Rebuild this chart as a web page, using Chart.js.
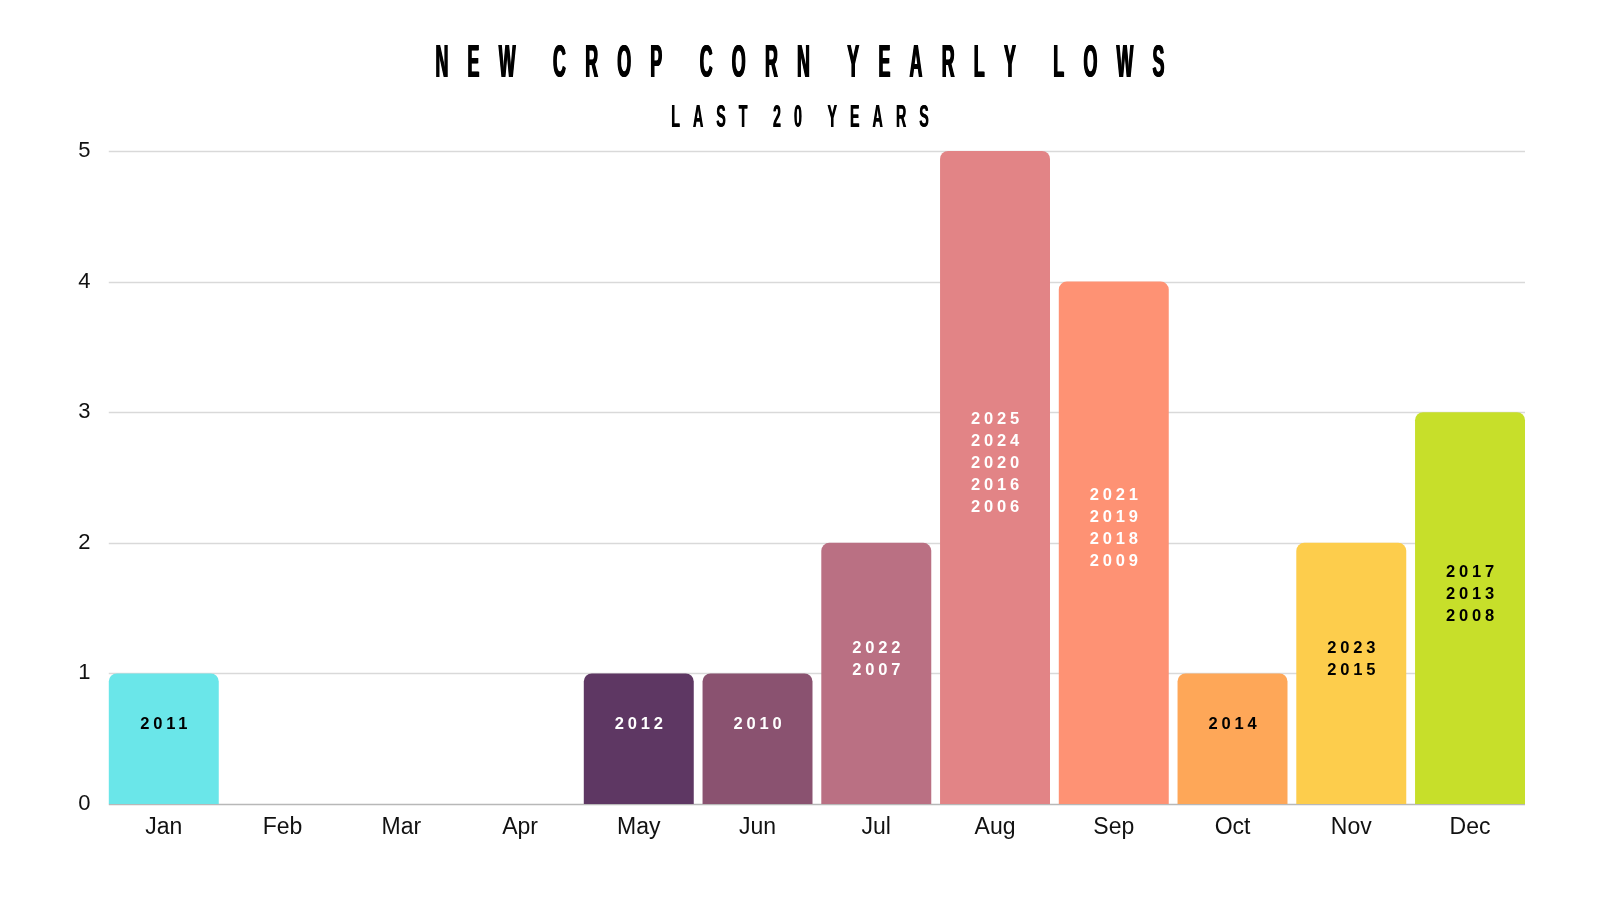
<!DOCTYPE html>
<html>
<head>
<meta charset="utf-8">
<script src="https://cdn.jsdelivr.net/npm/chart.js@4"></script>
<style>
  html, body { margin: 0; padding: 0; background: #fff; }
  #wrap { width: 1600px; height: 900px; }
</style>
</head>
<body>
<div id="wrap"><canvas id="lowsChart" width="1600" height="900"></canvas></div>
<script>
const months = ['Jan', 'Feb', 'Mar', 'Apr', 'May', 'Jun', 'Jul', 'Aug', 'Sep', 'Oct', 'Nov', 'Dec']
const lowCounts = [1, 0, 0, 0, 1, 1, 2, 5, 4, 1, 2, 3]
const lowYears = [
    ['2011'], [], [], [],
    ['2012'], ['2010'], ['2022', '2007'],
    ['2025', '2024', '2020', '2016', '2006'],
    ['2021', '2019', '2018', '2009'],
    ['2014'], ['2023', '2015'], ['2017', '2013', '2008']
]
const barColors = ['#6ae6e9', '#6ae6e9', '#6ae6e9', '#6ae6e9', '#5e3763', '#8a5270',
    '#ba7083', '#e28486', '#fe9274', '#fea758', '#fdcd4c', '#c7df2a']
const yearColors = ['#000', '#000', '#000', '#000', '#fff', '#fff',
    '#fff', '#fff', '#fff', '#000', '#000', '#000']
const yTicks = [0, 1, 2, 3, 4, 5]

const titleText = 'NEW CROP CORN YEARLY LOWS'
const subtitleText = 'LAST 20 YEARS'

// condensed, widely spaced heading text, fitted to a width
const drawSpaced = (ctx, text, cx, baseline, size, sx, width, heavy) => {
    ctx.save()
    ctx.font = 'bold ' + size + 'px "Liberation Sans", Arial, sans-serif'
    ctx.fillStyle = '#000'
    ctx.textBaseline = 'alphabetic'
    ctx.textAlign = 'left'
    const chars = text.split('')
    let letters = 0
    chars.forEach(c => {
        if (c !== ' ') letters += ctx.measureText(c).width * sx + heavy
    })
    const gap = (width - letters) / (chars.length - 1)
    let x = cx - width / 2
    chars.forEach(c => {
        if (c === ' ') { x += gap; return }
        for (let d = 0; d <= heavy; d += 0.5) {
            ctx.save()
            ctx.translate(x + d, baseline)
            ctx.scale(sx, 1)
            ctx.fillText(c, 0, 0)
            ctx.restore()
        }
        x += ctx.measureText(c).width * sx + heavy + gap
    })
    ctx.restore()
}

const headingPlugin = {
    id: 'heading',
    afterDraw(chart) {
        const ctx = chart.ctx
        drawSpaced(ctx, titleText, 800, 77, 47, 0.38, 730, 1)
        drawSpaced(ctx, subtitleText, 800, 127, 31, 0.46, 258, 0.5)
    }
}

// gridlines only across the bars, like the original
const barGrid = {
    id: 'barGrid',
    beforeDatasetsDraw(chart) {
        const ctx = chart.ctx
        const meta = chart.getDatasetMeta(0)
        const first = meta.data[0], last = meta.data[meta.data.length - 1]
        const left = first.x - first.width / 2
        const right = last.x + last.width / 2
        const y = chart.scales.y
        ctx.save()
        yTicks.forEach(v => {
            const py = Math.round(y.getPixelForValue(v)) + 0.5
            ctx.strokeStyle = v === 0 ? '#b8b8b8' : '#d9d9d9'
            ctx.lineWidth = 1.5
            ctx.beginPath()
            ctx.moveTo(left, py)
            ctx.lineTo(right, py)
            ctx.stroke()
        })
        ctx.restore()
    }
}

const yearLabels = {
    id: 'yearLabels',
    afterDatasetsDraw(chart) {
        const ctx = chart.ctx
        const meta = chart.getDatasetMeta(0)
        ctx.save()
        ctx.font = 'bold 16.5px "Liberation Sans", Arial, sans-serif'
        ctx.letterSpacing = '3.8px'
        ctx.textAlign = 'center'
        ctx.textBaseline = 'middle'
        meta.data.forEach((bar, i) => {
            const years = lowYears[i]
            if (!years.length) return
            const lineH = 22
            const mid = (bar.y + bar.base) / 2 - 14
            const first = mid - (years.length - 1) * lineH / 2
            ctx.fillStyle = yearColors[i]
            years.forEach((y, j) => {
                ctx.fillText(y, bar.x + 1.9, first + j * lineH)
            })
        })
        ctx.restore()
    }
}

new Chart(document.getElementById('lowsChart'), {
    type: 'bar',
    data: {
        labels: months,
        datasets: [{
            label: 'New crop corn yearly lows',
            data: lowCounts,
            backgroundColor: barColors,
            borderRadius: 8,
            borderSkipped: 'start',
            categoryPercentage: 1,
            barPercentage: 0.926
        }]
    },
    options: {
        responsive: false,
        animation: false,
        devicePixelRatio: 1,
        layout: { padding: { left: 0, right: 70.6, top: 151, bottom: 56 } },
        plugins: {
            legend: { display: false },
            tooltip: { enabled: false }
        },
        scales: {
            x: {
                offset: true,
                grid: { display: false, drawTicks: false },
                border: { display: false },
                ticks: {
                    color: '#111',
                    padding: 10,
                    font: { family: '"Liberation Sans", Arial, sans-serif', size: 23 }
                },
                afterFit: scale => { scale.height = 40 }
            },
            y: {
                min: 0,
                max: 5,
                afterBuildTicks: scale => { scale.ticks = yTicks.map(v => ({ value: v })) },
                grid: { display: false, drawTicks: false },
                border: { display: false },
                ticks: {
                    color: '#111',
                    padding: 14,
                    font: { family: '"Liberation Sans", Arial, sans-serif', size: 22 }
                },
                afterFit: scale => { scale.width = 104.4 }
            }
        }
    },
    plugins: [barGrid, yearLabels, headingPlugin]
})
</script>
</body>
</html>
